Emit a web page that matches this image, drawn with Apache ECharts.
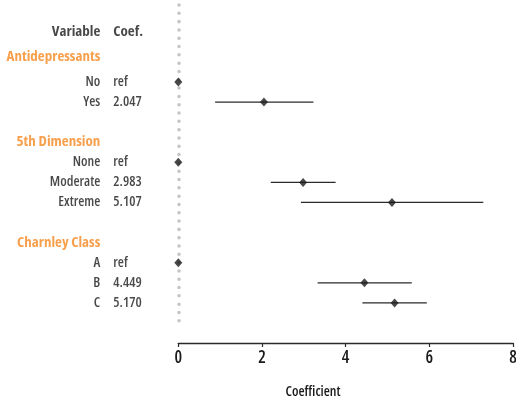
<!DOCTYPE html>
<html>
<head>
<meta charset="utf-8">
<script src="https://cdn.jsdelivr.net/npm/echarts@6/dist/echarts.min.js"></script>
<style>html,body{margin:0;padding:0;background:#fff}#c{width:516px;height:401px}</style>
</head>
<body>
<div id="c"></div>
<script>
const groups = ['Antidepressants', '5th Dimension', 'Charnley Class'];
const levels = [['No', 'Yes'], ['None', 'Moderate', 'Extreme'], ['A', 'B', 'C']];
const coefs = [[null, 2.047], [null, 2.983, 5.107], [null, 4.449, 5.170]];
const lower = [[null, 0.88], [null, 2.21, 2.93], [null, 3.33, 4.40]];
const upper = [[null, 3.23], [null, 3.76, 7.29], [null, 5.58, 5.94]];
const xTicks = [0, 2, 4, 6, 8];
const headerVar = 'Variable';
const headerCoef = 'Coef.';
const axisTitle = 'Coefficient';

const FONT = "'Open Sans'";
const ORANGE = '#f6871f';
const TEXT = '#1a1a1a';

// build rows
const rows = [];
const pointData = [];
const barData = [];
let row = 0;
rows.push({row: row, kind: 'header', name: headerVar, coef: headerCoef});
row++;
groups.forEach((g, gi) => {
  rows.push({row: row, kind: 'group', name: g, coef: '', first: gi === 0});
  row++;
  levels[gi].forEach((lv, li) => {
    const c = coefs[gi][li];
    rows.push({row: row, kind: 'level', name: lv, coef: c == null ? 'ref' : c.toFixed(3)});
    pointData.push([c == null ? 0 : c, row]);
    if (c != null) barData.push([lower[gi][li], upper[gi][li], row]);
    row++;
  });
  row++;
});

function labelStyleFor(d) {
  const s = {fontFamily: FONT, fontStyle: 'condensed', fontSize: 14, fontWeight: 600, color: TEXT};
  if (d.kind === 'header') { s.fontWeight = 700; s.fontSize = 15; s.offset = [0, -10]; }
  if (d.kind === 'group') { s.fontWeight = 700; s.fontSize = 15; s.color = ORANGE; if (d.first) s.offset = [0, -5]; }
  return s;
}

const chart = echarts.init(document.getElementById('c'), null, {renderer: 'canvas'});
chart.setOption({
  animation: false,
  grid: {left: 178.3, right: 3, top: 5, bottom: 78, outerBoundsMode: 'none', containLabel: false},
  xAxis: {
    type: 'value', min: xTicks[0], max: xTicks[xTicks.length - 1], interval: 2,
    offset: 20,
    axisLine: {show: true, onZero: false, lineStyle: {color: '#2a2a2a', width: 1.4}},
    axisTick: {show: true, length: 4, lineStyle: {color: '#2a2a2a', width: 1.2}},
    axisLabel: {fontFamily: FONT, fontStyle: 'condensed', fontWeight: 600, fontSize: 17, color: TEXT, margin: 7},
    splitLine: {show: false}
  },
  yAxis: {
    type: 'value', inverse: true, min: -1.83, max: 14,
    axisLine: {show: true, onZero: false, lineStyle: {color: '#c4c4c4', width: 3.5, type: [0.01, 8.3], cap: 'round'}},
    axisTick: {show: false}, axisLabel: {show: false}, splitLine: {show: false}
  },
  graphic: [{
    type: 'text', x: 313, y: 392,
    style: {text: axisTitle, fontFamily: FONT, fontStyle: 'condensed', fontWeight: 600, fontSize: 14, fill: TEXT, align: 'center', verticalAlign: 'middle'}
  }],
  series: [
    {
      type: 'custom',
      data: barData,
      renderItem: function (params, api) {
        const a = api.coord([api.value(0), api.value(2)]);
        const b = api.coord([api.value(1), api.value(2)]);
        return {type: 'line', shape: {x1: a[0], y1: a[1], x2: b[0], y2: b[1]},
          style: {stroke: '#2a2a2a', lineWidth: 1.3}};
      },
      z: 2
    },
    {
      type: 'scatter',
      data: pointData,
      symbol: 'diamond',
      symbolSize: [8, 9],
      itemStyle: {color: '#1a1a1a'},
      z: 3
    },
    {
      type: 'scatter',
      data: rows.map(d => ({value: [0, d.row], label: labelStyleFor(d)})),
      symbolSize: 0,
      silent: true,
      label: {
        show: true, position: 'left', distance: 78,
        formatter: p => rows[p.dataIndex].name
      },
      z: 4
    },
    {
      type: 'scatter',
      data: rows.map(d => ({value: [0, d.row], label: labelStyleFor(d)})),
      symbolSize: 0,
      silent: true,
      label: {
        show: true, position: 'left', distance: 65, align: 'left',
        formatter: p => rows[p.dataIndex].coef
      },
      z: 4
    }
  ]
});
</script>
</body>
</html>
